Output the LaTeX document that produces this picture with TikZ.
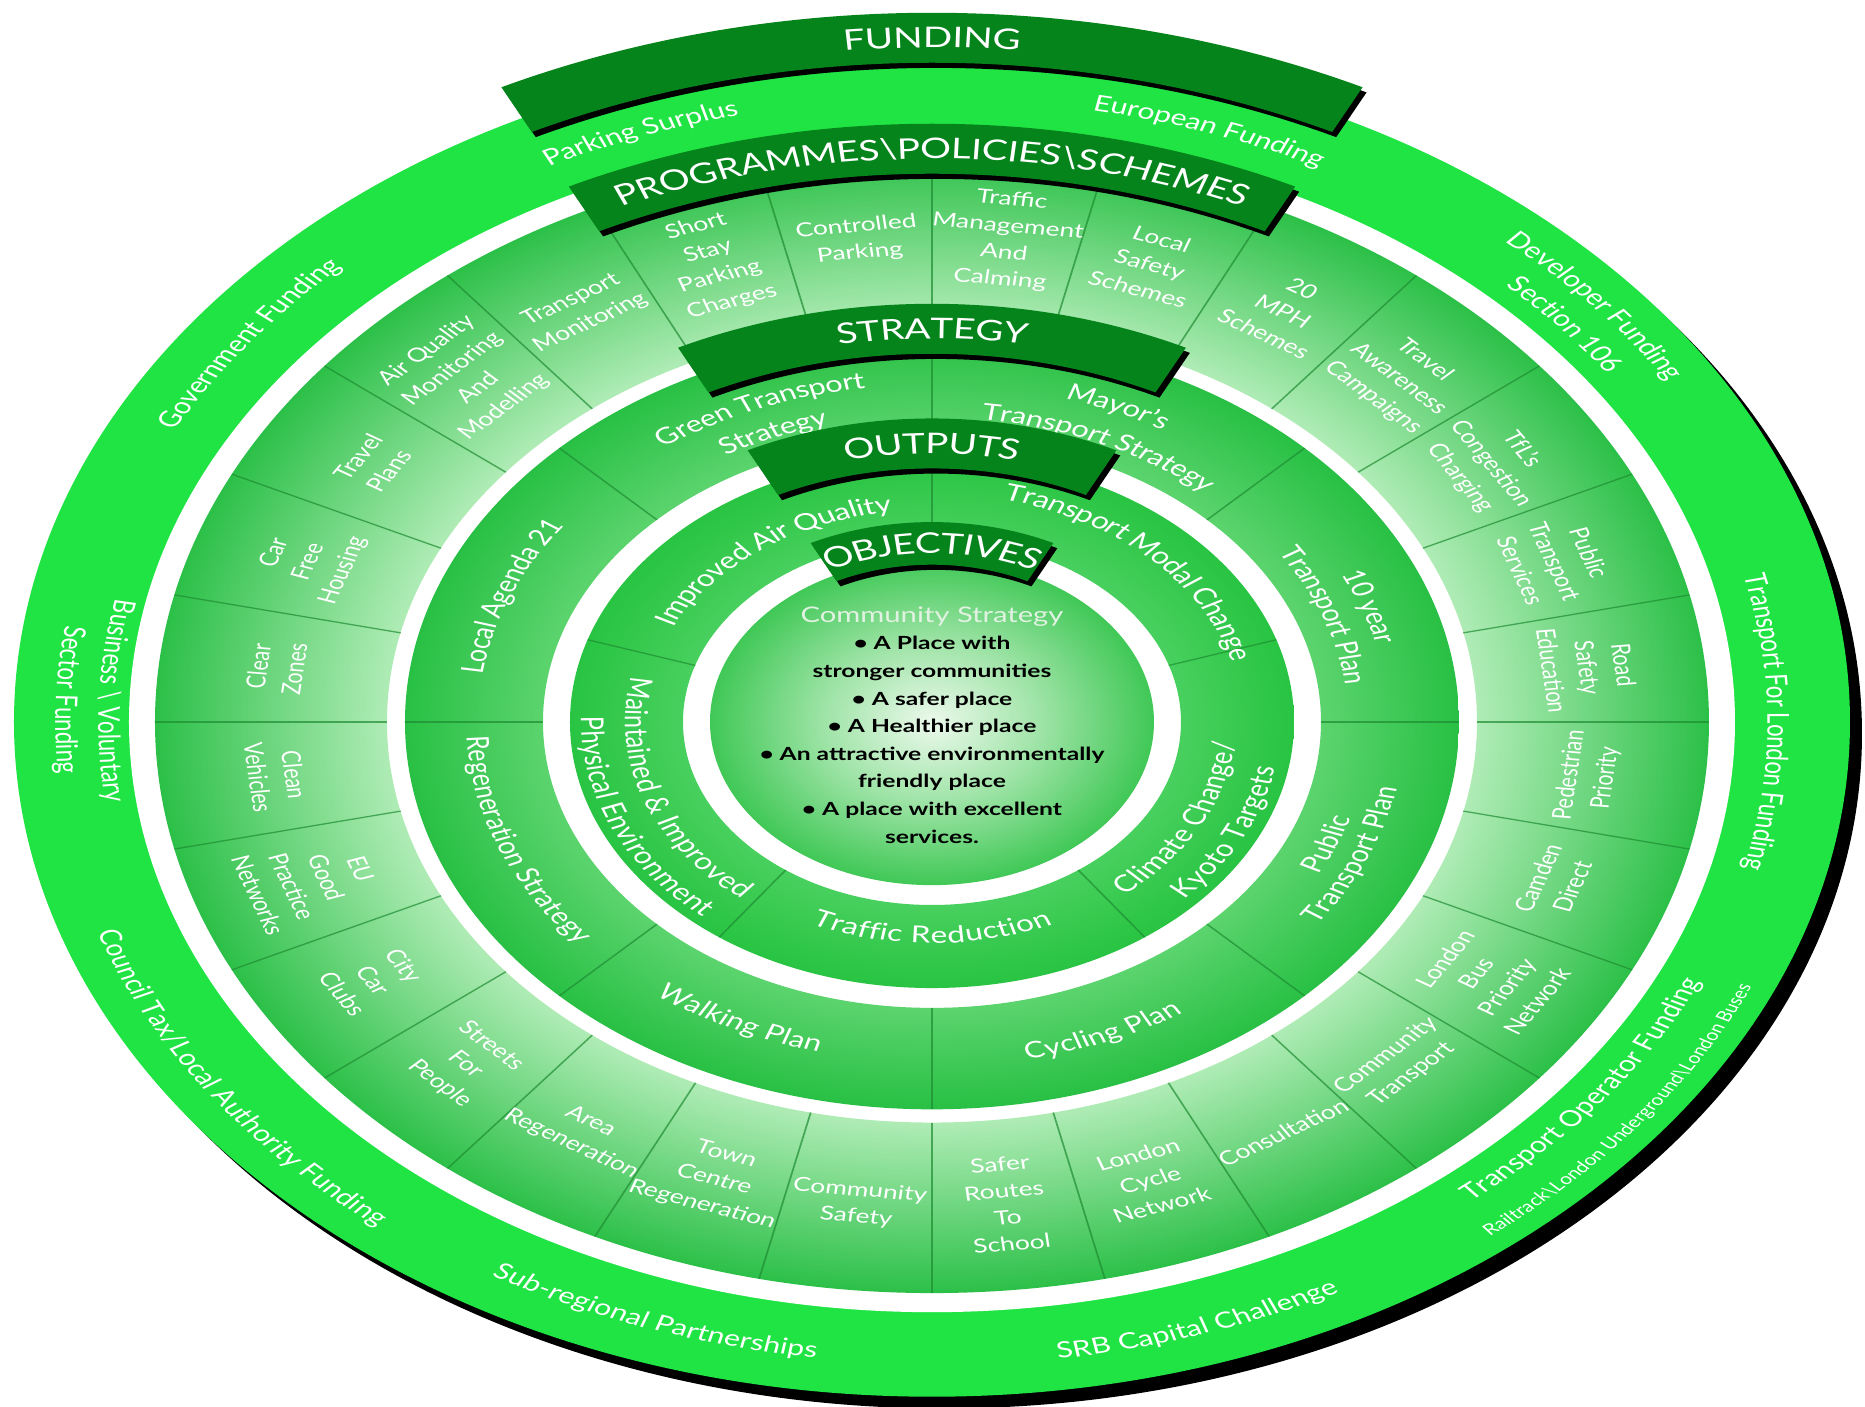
\documentclass[tikz,border=0pt]{standalone}
\usepackage{fontspec}
\setmainfont{Lato}
\usetikzlibrary{decorations.text}

\definecolor{FundGreen}{RGB}{32,228,68}
\definecolor{TabGreen}{RGB}{6,132,28}
\definecolor{ProgDark}{RGB}{44,192,72}
\definecolor{ProgLight}{RGB}{176,236,182}
\definecolor{StratDark}{RGB}{40,192,68}
\definecolor{StratLight}{RGB}{92,212,110}
\definecolor{OutDark}{RGB}{40,196,66}
\definecolor{OutLight}{RGB}{72,208,94}
\definecolor{CoreLight}{RGB}{236,249,236}
\definecolor{CoreMid}{RGB}{160,228,168}
\definecolor{CoreDark}{RGB}{64,200,86}
\definecolor{DivGreen}{RGB}{30,140,50}
\definecolor{PaleText}{RGB}{226,242,226}

\pgfdeclareradialshading{progshade}{\pgfpoint{0bp}{0bp}}{color(0bp)=(ProgLight); color(17.5bp)=(ProgLight); color(25bp)=(ProgDark); color(50bp)=(ProgDark)}
\pgfdeclareradialshading{stratshade}{\pgfpoint{0bp}{0bp}}{color(0bp)=(StratLight); color(18.4bp)=(StratLight); color(25bp)=(StratDark); color(50bp)=(StratDark)}
\pgfdeclareradialshading{outshade}{\pgfpoint{0bp}{0bp}}{color(0bp)=(OutLight); color(17.2bp)=(OutLight); color(25bp)=(OutDark); color(50bp)=(OutDark)}
\pgfdeclareradialshading{coreshade}{\pgfpoint{0bp}{0bp}}{color(0bp)=(CoreLight); color(12bp)=(CoreMid); color(25bp)=(CoreDark); color(50bp)=(CoreDark)}

\newcommand\bsl{\textbackslash}
% curved labels: [half span]{size}{angle}{radius}{text}
\newcommand\cwtext[5][60]{%
  \path[decorate, decoration={text along path, text align=center,
      raise=-0.35*#2pt,
      text={|\fontsize{#2}{#2}\selectfont\color{white}|#5}}]
    ({#3+#1}:#4) arc[start angle={#3+#1}, end angle={#3-#1}, radius=#4];}
\newcommand\ccwtext[5][60]{%
  \path[decorate, decoration={text along path, text align=center,
      raise=-0.35*#2pt,
      text={|\fontsize{#2}{#2}\selectfont\color{white}|#5}}]
    ({#3-#1}:#4) arc[start angle={#3-#1}, end angle={#3+#1}, radius=#4];}
\newcommand\tabtitle[2]{\cwtext{11}{90}{#1}{#2}}

\begin{document}
\begin{tikzpicture}[x=0.01cm, y=0.01cm,
    seg/.style={text=white, align=center, inner sep=0pt,
                font=\fontsize{7.5}{10.3}\selectfont},
    divline/.style={DivGreen, line width=0.5pt, opacity=0.7}
  ]
  \useasboundingbox (-932,-685) rectangle (933,722);
  \fill[white] (-932,-685) rectangle (933,722);
  \begin{scope}[transform canvas={yscale=0.735}]
    % rings
    \fill[black] (12,-16) circle[radius=918];
    \fill[FundGreen] (0,0) circle[radius=918];
    \fill[white] (0,0) circle[radius=803];
    \shade[shading=progshade, even odd rule] (0,0) circle[radius=777] (0,0) circle[radius=545];
    \shade[shading=stratshade, even odd rule] (0,0) circle[radius=527] (0,0) circle[radius=389];
    \shade[shading=outshade, even odd rule] (0,0) circle[radius=362] (0,0) circle[radius=249];
    \shade[shading=coreshade] (0,0) circle[radius=222];

    \foreach \k in {0,...,27}
      \draw[divline] ({\k*360/28}:545) -- ({\k*360/28}:777);
    \foreach \a in {0,45,...,315}
      \draw[divline] (\a:389) -- (\a:527);
    \foreach \a in {18,90,162,234,306}
      \draw[divline] (\a:249) -- (\a:362);

    % programmes / policies / schemes
    \foreach \k/\nm/\txt in {
        0/roadsafety/{Road\\Safety\\Education},
        1/ptservices/{Public\\Transport\\Services},
        2/congestion/{TfL's\\Congestion\\Charging},
        3/awareness/{Travel\\Awareness\\Campaigns},
        4/mph/{20\\MPH\\Schemes},
        5/localsafety/{Local\\Safety\\Schemes},
        6/trafficmgmt/{Traffic\\Management\\And\\Calming},
        7/controlled/{Controlled\\Parking},
        8/shortstay/{Short\\Stay\\Parking\\Charges},
        9/monitoring/{Transport\\Monitoring},
        10/airquality/{Air Quality\\Monitoring\\And\\Modelling},
        11/travelplans/{Travel\\Plans},
        12/carfree/{Car\\Free\\Housing},
        13/clearzones/{Clear\\Zones},
        14/cleanveh/{Clean\\Vehicles},
        15/eugood/{EU\\Good\\Practice\\Networks},
        16/carclubs/{City\\Car\\Clubs},
        17/streets/{Streets\\For\\People},
        18/arearegen/{Area\\Regeneration},
        19/towncentre/{Town\\Centre\\Regeneration},
        20/commsafety/{Community\\Safety},
        21/saferroutes/{Safer\\Routes\\To\\School},
        22/cyclenet/{London\\Cycle\\Network},
        23/consult/{Consultation},
        24/commtrans/{Community\\Transport},
        25/buspriority/{London\\Bus\\Priority\\Network},
        26/camden/{Camden\\Direct},
        27/pedestrian/{Pedestrian\\Priority}}{
      \pgfmathsetmacro\ang{6.4286+12.8571*\k}
      \pgfmathsetmacro\rot{\ang<180 ? \ang-90 : \ang+90}
      \node[seg, rotate=\rot] (\nm) at (\ang:660) {\txt};
    }

    % funding
    \cwtext{8.6}{110}{858}{Parking Surplus}
    \cwtext{8.6}{71}{858}{European Funding}
    \cwtext{8.6}{143}{865}{Government Funding}
    \cwtext{8.6}{40.5}{880}{Developer Funding}
    \cwtext{8.6}{40.5}{836}{Section 106}
    \cwtext{8.6}{0}{846}{Transport For London Funding}
    \ccwtext{8.6}{-37.6}{836}{Transport Operator Funding}
    \ccwtext{6}{-37.6}{888}{Railtrack{\bsl}London Underground{\bsl}London Buses}
    \ccwtext{8.6}{-72}{865}{SRB Capital Challenge}
    \ccwtext{8.6}{251}{862}{Sub-regional Partnerships}
    \ccwtext{8.6}{215}{872}{Council Tax/Local Authority Funding}
    \ccwtext{8.6}{178}{823}{Business {\bsl} Voluntary}
    \ccwtext{8.6}{178}{866}{Sector Funding}

    % strategy
    \cwtext{8.8}{112}{470}{Green Transport}
    \cwtext{8.8}{112}{428}{Strategy}
    \cwtext{8.8}{66.5}{470}{Mayor's}
    \cwtext{8.8}{66}{425}{Transport Strategy}
    \cwtext{8.8}{19.7}{467}{10 year}
    \cwtext{8.8}{20.3}{427}{Transport Plan}
    \ccwtext{8.8}{-22.8}{428}{Public}
    \ccwtext{8.8}{-23.3}{463}{Transport Plan}
    \ccwtext{8.8}{-68}{458}{Cycling Plan}
    \ccwtext{8.8}{244.6}{452}{Walking Plan}
    \ccwtext{8.8}{201.5}{455}{Regeneration Strategy}
    \cwtext{8.8}{157.9}{465}{Local Agenda 21}

    % outputs
    \cwtext{9}{125.7}{300}{Improved Air Quality}
    \cwtext{9}{46}{322}{Transport Modal Change}
    \ccwtext{9}{-28}{293}{Climate Change/}
    \ccwtext{9}{-27}{338}{Kyoto Targets}
    \ccwtext{9}{270}{290}{Traffic Reduction}
    \ccwtext{9}{200}{296}{Maintained {\&} Improved}
    \ccwtext{9}{204}{340}{Physical Environment}

    % objectives
    \node[font=\fontsize{7}{10.7}\selectfont\bfseries, align=center, inner sep=0pt]
      (objectives) at (0,-4)
      {{\mdseries\fontsize{8.3}{10.7}\selectfont\color{PaleText}Community Strategy}\\
       • A Place with\\ stronger communities\\ • A safer place\\ • A Healthier place\\
       • An attractive environmentally\\ friendly place\\
       • A place with excellent\\ services.};

    % title tabs
    \foreach \rc/\hw in {931/34, 780/34, 535/34, 379/34, 243/29}{
      \pgfmathsetmacro\ri{\rc-\hw}
      \pgfmathsetmacro\ro{\rc+\hw}
      \fill[black, shift={(4,-7)}] (116.5:\ri) arc[start angle=116.5, end angle=63.5, radius=\ri]
        -- (63.5:\ro) arc[start angle=63.5, end angle=116.5, radius=\ro] -- cycle;
      \fill[TabGreen] (116.5:\ri) arc[start angle=116.5, end angle=63.5, radius=\ri]
        -- (63.5:\ro) arc[start angle=63.5, end angle=116.5, radius=\ro] -- cycle;
    }
    \tabtitle{931}{FUNDING}
    \tabtitle{780}{PROGRAMMES{\bsl}POLICIES{\bsl}SCHEMES}
    \tabtitle{535}{STRATEGY}
    \tabtitle{379}{OUTPUTS}
    \tabtitle{243}{OBJECTIVES}
  \end{scope}
\end{tikzpicture}
\end{document}
